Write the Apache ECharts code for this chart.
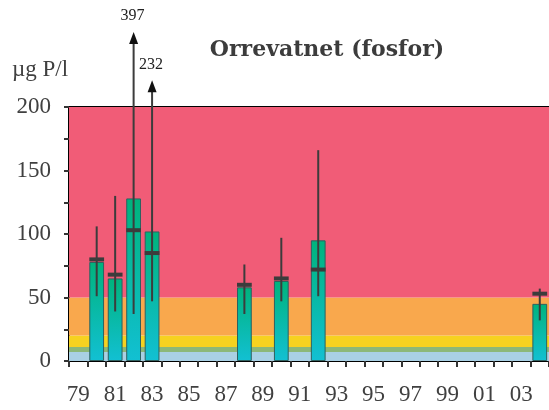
<!DOCTYPE html>
<html>
<head>
<meta charset="utf-8">
<script src="https://cdn.jsdelivr.net/npm/echarts@6/dist/echarts.min.js"></script>
<style>html,body{margin:0;padding:0;background:#fff;}#c{width:549px;height:410px;}</style>
</head>
<body>
<div id="c"></div>
<script>
const years = ['79','80','81','82','83','84','85','86','87','88','89','90','91','92','93','94','95','96','97','98','99','00','01','02','03','04'];
const meanValues   = [null, 78, 65, 128, 102, null, null, null, null, 58, null, 63, null, 95, null, null, null, null, null, null, null, null, null, null, null, 45];
const medianValues = [null, 80, 68, 103, 85, null, null, null, null, 60, null, 65, null, 72, null, null, null, null, null, null, null, null, null, null, null, 53];
const minValues    = [null, 51, 39, 37, 47, null, null, null, null, 37, null, 47, null, 51, null, null, null, null, null, null, null, null, null, null, null, 32];
const maxValues    = [null, 106, 130, 397, 232, null, null, null, null, 76, null, 97, null, 166, null, null, null, null, null, null, null, null, null, null, null, 57];
// display height (axis units) of the arrow drawn for maxima above the axis
const arrowTips    = [null, null, null, 259, 221, null, null, null, null, null, null, null, null, null, null, null, null, null, null, null, null, null, null, null, null, null];
const yMax = 200;
const bandLimits = [0, 7, 11, 20, 50, 200];
const bandColors = ['#a9d0e4', '#8cb878', '#f6d220', '#f9a84d', '#f15c77'];
const yTickLabels = ['0', '50', '100', '150', '200'];

const font = 'Liberation Serif';
const textColor = '#404040';

const bands = [];
for (let i = 0; i < bandColors.length; i++) {
  bands.push([{ yAxis: bandLimits[i], itemStyle: { color: bandColors[i] } }, { yAxis: bandLimits[i + 1] }]);
}

const whiskerData = [];
for (let i = 0; i < years.length; i++) {
  if (medianValues[i] !== null) {
    whiskerData.push([i, minValues[i], maxValues[i], medianValues[i], arrowTips[i] === null ? -1 : arrowTips[i]]);
  }
}

const chart = echarts.init(document.getElementById('c'), null, { renderer: 'canvas' });
chart.setOption({
  animation: false,
  backgroundColor: '#ffffff',
  grid: { left: 69, top: 107, bottom: 49, right: -5.4, containLabel: false },
  xAxis: [{
    type: 'category',
    data: years,
    boundaryGap: true,
    axisLine: { show: true, lineStyle: { color: '#000', width: 2 } },
    axisTick: { show: true, interval: 0, length: 6, lineStyle: { color: '#333', width: 2 } },
    axisLabel: { interval: 1, margin: 22, fontFamily: font, fontSize: 23, color: textColor },
    splitLine: { show: false }
  }, {
    type: 'category',
    data: years,
    position: 'top',
    axisLine: { show: true, onZero: false, lineStyle: { color: '#000', width: 2 } },
    axisTick: { show: false },
    axisLabel: { show: false }
  }],
  yAxis: {
    type: 'value',
    min: 0,
    max: yMax,
    interval: 25,
    axisLine: { show: true, lineStyle: { color: '#000', width: 2 } },
    axisTick: { show: true, length: 5, lineStyle: { color: '#333', width: 2 } },
    axisLabel: {
      margin: 18, fontFamily: font, fontSize: 23, color: textColor,
      formatter: function (v) { return (v % 50 === 0) ? yTickLabels[v / 50] : ''; }
    },
    splitLine: { show: false }
  },
  series: [{
    type: 'bar',
    data: meanValues,
    barWidth: '80%',
    z: 3,
    itemStyle: {
      color: new echarts.graphic.LinearGradient(0, 0, 0, 1, [
        { offset: 0, color: '#00b37c' },
        { offset: 1, color: '#12c0d3' }
      ]),
      borderColor: '#2e6160',
      borderWidth: 1
    },
    markArea: { silent: true, z: 1, data: bands }
  }, {
    type: 'custom',
    clip: false,
    z: 5,
    data: whiskerData,
    renderItem: function (params, api) {
      const idx = api.value(0);
      const lo = api.coord([idx, api.value(1)]);
      const maxV = api.value(2);
      const med = api.coord([idx, api.value(3)]);
      const tipV = api.value(4);
      const w = api.size([1, 0])[0] * 0.8;
      const x = lo[0];
      const children = [];
      let topY;
      if (maxV > yMax && tipV > 0) {
        topY = api.coord([idx, tipV])[1];
        children.push({ type: 'line', shape: { x1: x, y1: lo[1], x2: x, y2: topY + 10 }, style: { stroke: '#3c3c3c', lineWidth: 2 } });
        children.push({ type: 'polygon', shape: { points: [[x, topY], [x - 4.5, topY + 12], [x + 4.5, topY + 12]] }, style: { fill: '#111' } });
        children.push({ type: 'text', x: x - 1, y: topY - 8, style: { text: String(maxV), textAlign: 'center', textVerticalAlign: 'bottom', font: '16px "Liberation Serif"', fill: '#222' } });
      } else {
        topY = api.coord([idx, maxV])[1];
        children.push({ type: 'line', shape: { x1: x, y1: lo[1], x2: x, y2: topY }, style: { stroke: '#3c3c3c', lineWidth: 2 } });
      }
      children.push({ type: 'rect', shape: { x: x - w / 2, y: med[1] - 2, width: w, height: 4 }, style: { fill: '#3c3c3c' } });
      return { type: 'group', children: children };
    }
  }],
  graphic: [{
    type: 'text',
    x: 327, y: 50,
    style: { text: 'Orrevatnet (fosfor)', textAlign: 'center', textVerticalAlign: 'middle', font: 'bold 22px "DejaVu Serif"', fill: '#3c3c3c' }
  }, {
    type: 'text',
    x: 12, y: 70,
    style: { text: 'µg P/l', textAlign: 'left', textVerticalAlign: 'middle', font: '23px "Liberation Serif"', fill: textColor }
  }]
});
</script>
</body>
</html>
